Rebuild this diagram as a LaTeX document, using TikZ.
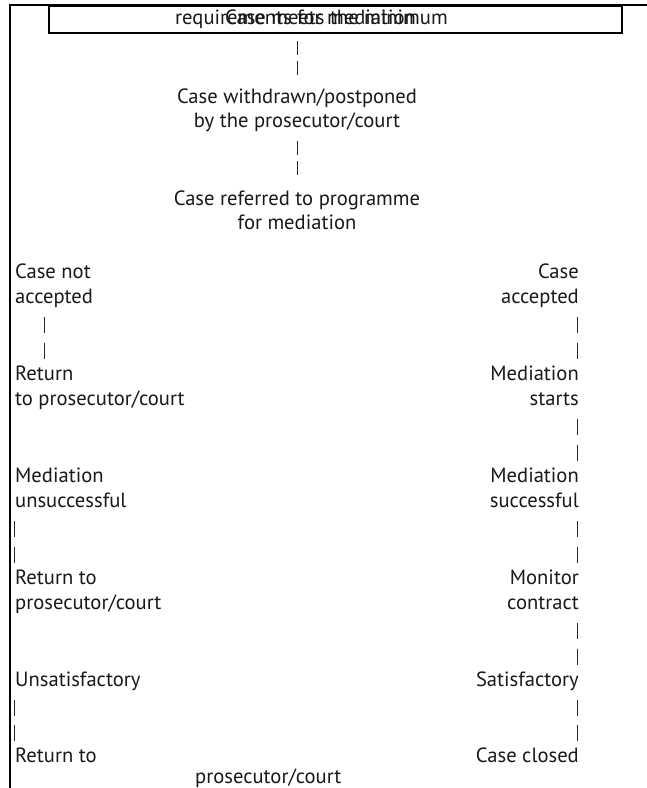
\documentclass[tikz,border=0pt]{standalone}
\usepackage{fontspec}
\setmainfont{PT Sans}
\newlength\refw
\settowidth\refw{\fontsize{10pt}{12pt}\selectfont Case withdrawn/postponed}
\pgfmathsetmacro\fsz{10*240/\refw}
\begin{document}
\begin{tikzpicture}[x=1pt,y=-1pt]
\tikzset{
  txt/.style={inner sep=0pt, font=\fontsize{\fsz pt}{25pt}\selectfont, text=black!90},
  lt/.style={txt, anchor=base west},
  rt/.style={txt, anchor=base east},
  ct/.style={txt, anchor=base},
  frame/.style={line width=2.4pt, black},
  pipe/.style={line width=0.9pt, black!85, dash pattern=on 16pt off 9.5pt},
  mpipe/.style={line width=0.9pt, black!85, dash pattern=on 14pt off 6pt}
}
\useasboundingbox[fill=white] (0,0) rectangle (647,788);
% frame lines
\coordinate (fbot) at (10,788);
\coordinate (fcorner) at (10,5);
\coordinate (fright) at (647,5);
\draw[frame] (fbot) -- (fcorner) -- (fright);
\node[draw, frame, minimum width=573pt, minimum height=27pt, anchor=north west, inner sep=0pt] (topbox) at (48,5) {};
% overlapping title lines
\node[lt] (t2) at (175,24) {requirements for mediation};
\node[rt] (t1) at (448,24) {Case meets the minimum};
% middle column
\node[ct] (w1) at (297,103) {Case withdrawn/postponed};
\node[ct] (w2) at (297,127) {by the prosecutor/court};
\node[ct] (r1) at (297,205) {Case referred to programme};
\node[ct] (r2) at (297,229) {for mediation};
\coordinate (m1a) at (297,41); \coordinate (m1b) at (297,75);
\coordinate (m2a) at (297,141); \coordinate (m2b) at (297,175);
\draw[mpipe] (m1a) -- (m1b);
\draw[mpipe] (m2a) -- (m2b);
% left column
\node[lt] (l0) at (15,278) {Case not};
\node[lt] (l1) at (15,303.5) {accepted};
\node[lt] (l4) at (15,380) {Return};
\node[lt] (l5) at (15,405.5) {to prosecutor/court};
\node[lt] (l8) at (15,482) {Mediation};
\node[lt] (l9) at (15,507.5) {unsuccessful};
\node[lt] (l12) at (15,584) {Return to};
\node[lt] (l13) at (15,609.5) {prosecutor/court};
\node[lt] (l16) at (15,686) {Unsatisfactory};
\node[lt] (l19) at (15,762.5) {Return to};
\node[lt] (l20) at (195,783) {prosecutor/court};
% right column
\node[rt] (r0) at (579,278) {Case};
\node[rt] (rr1) at (579,303.5) {accepted};
\node[rt] (rr4) at (579,380) {Mediation};
\node[rt] (rr5) at (579,405.5) {starts};
\node[rt] (rr8) at (579,482) {Mediation};
\node[rt] (rr9) at (579,507.5) {successful};
\node[rt] (rr12) at (579,584) {Monitor};
\node[rt] (rr13) at (579,609.5) {contract};
\node[rt] (rr16) at (579,686) {Satisfactory};
\node[rt] (rr19) at (579,762.5) {Case closed};
% pipes
\coordinate (la1) at (44,317); \coordinate (lb1) at (44,358.5);
\coordinate (la2) at (14,521); \coordinate (lb2) at (14,562.5);
\coordinate (la3) at (14,699.5); \coordinate (lb3) at (14,741);
\draw[pipe] (la1) -- (lb1);
\draw[pipe] (la2) -- (lb2);
\draw[pipe] (la3) -- (lb3);
\coordinate (ra1) at (577,317); \coordinate (rb1) at (577,358.5);
\coordinate (ra2) at (577,419); \coordinate (rb2) at (577,460.5);
\coordinate (ra3) at (577,521); \coordinate (rb3) at (577,562.5);
\coordinate (ra4) at (577,623); \coordinate (rb4) at (577,664.5);
\coordinate (ra5) at (577,699.5); \coordinate (rb5) at (577,741);
\draw[pipe] (ra1) -- (rb1);
\draw[pipe] (ra2) -- (rb2);
\draw[pipe] (ra3) -- (rb3);
\draw[pipe] (ra4) -- (rb4);
\draw[pipe] (ra5) -- (rb5);
\end{tikzpicture}
\end{document}
